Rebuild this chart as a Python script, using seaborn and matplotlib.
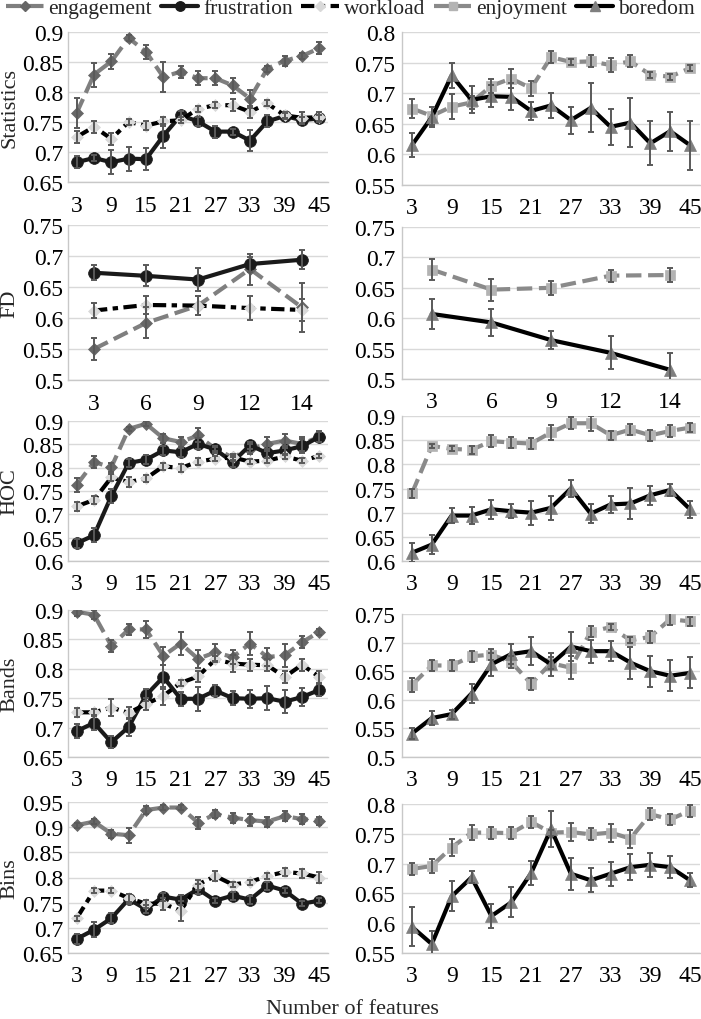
import numpy as np
import pandas as pd
import matplotlib
matplotlib.use("Agg")
import matplotlib.pyplot as plt
import seaborn as sns
from matplotlib.lines import Line2D
from matplotlib.ticker import FuncFormatter, MultipleLocator
from matplotlib import font_manager

# ---------------- data ----------------
features = [3, 6, 9, 12, 15, 18, 21, 24, 27, 30, 33, 36, 39, 42, 45]
fd_features = [3, 6, 9, 12, 14]

# Statistics
stats_engagement = [0.765, 0.829, 0.851, 0.890, 0.867, 0.825, 0.834, 0.823, 0.823, 0.811, 0.789, 0.839, 0.852, 0.860, 0.873]
stats_engagement_err = [0.025, 0.02, 0.012, 0.005, 0.012, 0.025, 0.01, 0.012, 0.012, 0.012, 0.015, 0.005, 0.008, 0.005, 0.01]
stats_frustration = [0.683, 0.690, 0.683, 0.689, 0.688, 0.727, 0.761, 0.751, 0.734, 0.734, 0.719, 0.751, 0.760, 0.753, 0.756]
stats_frustration_err = [0.01, 0.005, 0.02, 0.02, 0.018, 0.02, 0.008, 0.008, 0.01, 0.005, 0.018, 0.01, 0.005, 0.005, 0.005]
stats_workload = [0.725, 0.742, 0.722, 0.750, 0.744, 0.751, 0.753, 0.772, 0.778, 0.778, 0.767, 0.781, 0.761, 0.757, 0.758]
stats_workload_err = [0.01, 0.01, 0.01, 0.005, 0.008, 0.008, 0.005, 0.005, 0.005, 0.01, 0.01, 0.005, 0.005, 0.01, 0.008]
stats_enjoyment = [0.675, 0.663, 0.678, 0.685, 0.712, 0.724, 0.708, 0.759, 0.751, 0.752, 0.746, 0.752, 0.730, 0.727, 0.741]
stats_enjoyment_err = [0.015, 0.015, 0.02, 0.01, 0.012, 0.015, 0.012, 0.01, 0.005, 0.01, 0.012, 0.01, 0.005, 0.005, 0.005]
stats_boredom = [0.615, 0.661, 0.729, 0.689, 0.695, 0.694, 0.671, 0.680, 0.656, 0.676, 0.645, 0.652, 0.618, 0.638, 0.615]
stats_boredom_err = [0.02, 0.017, 0.02, 0.022, 0.018, 0.022, 0.015, 0.02, 0.022, 0.04, 0.03, 0.04, 0.036, 0.032, 0.04]

# FD
fd_engagement = [0.550, 0.592, 0.620, 0.679, 0.617]
fd_engagement_err = [0.017, 0.025, 0.015, 0.025, 0.04]
fd_frustration = [0.673, 0.668, 0.662, 0.687, 0.694]
fd_frustration_err = [0.012, 0.017, 0.018, 0.012, 0.015]
fd_workload = [0.612, 0.621, 0.620, 0.616, 0.613]
fd_workload_err = [0.012, 0.015, 0.015, 0.02, 0.018]
fd_enjoyment = [0.680, 0.647, 0.650, 0.670, 0.671]
fd_enjoyment_err = [0.017, 0.018, 0.012, 0.01, 0.012]
fd_boredom = [0.607, 0.593, 0.564, 0.543, 0.515]
fd_boredom_err = [0.025, 0.022, 0.015, 0.027, 0.028]

# HOC
hoc_engagement = [0.763, 0.812, 0.801, 0.883, 0.894, 0.863, 0.855, 0.869, 0.840, 0.822, 0.840, 0.851, 0.858, 0.851, 0.866]
hoc_engagement_err = [0.015, 0.012, 0.01, 0.005, 0.005, 0.01, 0.01, 0.015, 0.005, 0.005, 0.01, 0.015, 0.015, 0.015, 0.01]
hoc_frustration = [0.638, 0.655, 0.739, 0.810, 0.817, 0.837, 0.833, 0.851, 0.839, 0.812, 0.848, 0.831, 0.837, 0.846, 0.866]
hoc_frustration_err = [0.01, 0.015, 0.015, 0.008, 0.01, 0.01, 0.01, 0.012, 0.008, 0.01, 0.008, 0.01, 0.01, 0.015, 0.012]
hoc_workload = [0.717, 0.731, 0.779, 0.769, 0.777, 0.803, 0.799, 0.813, 0.819, 0.822, 0.813, 0.815, 0.824, 0.815, 0.825]
hoc_workload_err = [0.01, 0.008, 0.008, 0.01, 0.008, 0.008, 0.008, 0.008, 0.005, 0.008, 0.005, 0.005, 0.005, 0.005, 0.005]
hoc_enjoyment = [0.740, 0.838, 0.832, 0.830, 0.848, 0.845, 0.843, 0.866, 0.885, 0.885, 0.860, 0.872, 0.860, 0.869, 0.876]
hoc_enjoyment_err = [0.01, 0.005, 0.005, 0.008, 0.012, 0.012, 0.012, 0.015, 0.012, 0.015, 0.01, 0.012, 0.012, 0.012, 0.01]
hoc_boredom = [0.617, 0.634, 0.694, 0.694, 0.707, 0.703, 0.700, 0.710, 0.750, 0.698, 0.717, 0.719, 0.736, 0.747, 0.707]
hoc_boredom_err = [0.02, 0.02, 0.015, 0.017, 0.02, 0.015, 0.025, 0.025, 0.018, 0.02, 0.018, 0.032, 0.02, 0.013, 0.017]

# Bands
bands_engagement = [0.897, 0.892, 0.839, 0.867, 0.867, 0.822, 0.843, 0.817, 0.828, 0.820, 0.843, 0.820, 0.823, 0.845, 0.863]
bands_engagement_err = [0.008, 0.008, 0.01, 0.01, 0.015, 0.015, 0.02, 0.015, 0.015, 0.012, 0.02, 0.015, 0.02, 0.01, 0.005]
bands_frustration = [0.694, 0.708, 0.675, 0.701, 0.755, 0.786, 0.749, 0.749, 0.763, 0.750, 0.749, 0.750, 0.744, 0.752, 0.764]
bands_frustration_err = [0.012, 0.012, 0.01, 0.015, 0.01, 0.02, 0.012, 0.02, 0.01, 0.012, 0.015, 0.02, 0.02, 0.015, 0.01]
bands_workload = [0.726, 0.726, 0.734, 0.725, 0.740, 0.754, 0.776, 0.787, 0.816, 0.809, 0.807, 0.806, 0.786, 0.807, 0.786]
bands_workload_err = [0.008, 0.005, 0.015, 0.01, 0.01, 0.015, 0.005, 0.01, 0.005, 0.015, 0.01, 0.01, 0.01, 0.01, 0.01]
bands_enjoyment = [0.626, 0.660, 0.660, 0.676, 0.679, 0.666, 0.628, 0.664, 0.656, 0.719, 0.727, 0.704, 0.710, 0.741, 0.737]
bands_enjoyment_err = [0.012, 0.01, 0.01, 0.01, 0.01, 0.01, 0.01, 0.01, 0.02, 0.01, 0.005, 0.005, 0.01, 0.01, 0.008]
bands_boredom = [0.541, 0.568, 0.575, 0.611, 0.662, 0.680, 0.685, 0.662, 0.693, 0.685, 0.685, 0.665, 0.650, 0.642, 0.647]
bands_boredom_err = [0.01, 0.012, 0.008, 0.017, 0.02, 0.018, 0.025, 0.02, 0.025, 0.02, 0.017, 0.028, 0.027, 0.027, 0.027]

# Bins
bins_engagement = [0.904, 0.911, 0.887, 0.884, 0.934, 0.939, 0.939, 0.909, 0.926, 0.919, 0.914, 0.911, 0.922, 0.916, 0.913]
bins_engagement_err = [0.005, 0.005, 0.008, 0.015, 0.008, 0.005, 0.005, 0.012, 0.008, 0.01, 0.012, 0.01, 0.01, 0.01, 0.008]
bins_frustration = [0.678, 0.696, 0.719, 0.757, 0.737, 0.762, 0.756, 0.777, 0.754, 0.764, 0.756, 0.784, 0.774, 0.748, 0.754]
bins_frustration_err = [0.01, 0.015, 0.01, 0.01, 0.008, 0.008, 0.01, 0.01, 0.005, 0.008, 0.008, 0.008, 0.005, 0.005, 0.005]
bins_workload = [0.719, 0.774, 0.774, 0.759, 0.748, 0.748, 0.734, 0.786, 0.803, 0.786, 0.791, 0.803, 0.811, 0.808, 0.800]
bins_workload_err = [0.005, 0.005, 0.005, 0.008, 0.008, 0.012, 0.02, 0.01, 0.01, 0.005, 0.005, 0.005, 0.008, 0.008, 0.01]
bins_enjoyment = [0.691, 0.696, 0.727, 0.752, 0.752, 0.751, 0.770, 0.752, 0.753, 0.749, 0.752, 0.742, 0.783, 0.774, 0.789]
bins_enjoyment_err = [0.01, 0.012, 0.015, 0.012, 0.01, 0.01, 0.01, 0.005, 0.015, 0.01, 0.015, 0.015, 0.01, 0.01, 0.01]
bins_boredom = [0.594, 0.565, 0.645, 0.677, 0.612, 0.635, 0.684, 0.758, 0.683, 0.672, 0.683, 0.694, 0.698, 0.694, 0.672]
bins_boredom_err = [0.033, 0.022, 0.025, 0.01, 0.02, 0.025, 0.02, 0.03, 0.027, 0.02, 0.02, 0.022, 0.02, 0.018, 0.012]

row_names = ["Statistics", "FD", "HOC", "Bands", "Bins"]
left_ylims = [(0.65, 0.9), (0.5, 0.75), (0.6, 0.9), (0.65, 0.9), (0.65, 0.95)]
right_ylims = [(0.55, 0.8), (0.5, 0.75), (0.6, 0.9), (0.5, 0.75), (0.55, 0.8)]

# ---------------- assemble ----------------
rows = {
    "Statistics": (features, {
        "engagement": (stats_engagement, stats_engagement_err),
        "frustration": (stats_frustration, stats_frustration_err),
        "workload": (stats_workload, stats_workload_err)},
        {"enjoyment": (stats_enjoyment, stats_enjoyment_err),
         "boredom": (stats_boredom, stats_boredom_err)}),
    "FD": (fd_features, {
        "engagement": (fd_engagement, fd_engagement_err),
        "frustration": (fd_frustration, fd_frustration_err),
        "workload": (fd_workload, fd_workload_err)},
        {"enjoyment": (fd_enjoyment, fd_enjoyment_err),
         "boredom": (fd_boredom, fd_boredom_err)}),
    "HOC": (features, {
        "engagement": (hoc_engagement, hoc_engagement_err),
        "frustration": (hoc_frustration, hoc_frustration_err),
        "workload": (hoc_workload, hoc_workload_err)},
        {"enjoyment": (hoc_enjoyment, hoc_enjoyment_err),
         "boredom": (hoc_boredom, hoc_boredom_err)}),
    "Bands": (features, {
        "engagement": (bands_engagement, bands_engagement_err),
        "frustration": (bands_frustration, bands_frustration_err),
        "workload": (bands_workload, bands_workload_err)},
        {"enjoyment": (bands_enjoyment, bands_enjoyment_err),
         "boredom": (bands_boredom, bands_boredom_err)}),
    "Bins": (features, {
        "engagement": (bins_engagement, bins_engagement_err),
        "frustration": (bins_frustration, bins_frustration_err),
        "workload": (bins_workload, bins_workload_err)},
        {"enjoyment": (bins_enjoyment, bins_enjoyment_err),
         "boredom": (bins_boredom, bins_boredom_err)}),
}

STY = {
    "engagement": dict(color="#7f7f7f", linestyle="--", marker="D", mfc="#666666", ms=6.5),
    "frustration": dict(color="#1a1a1a", linestyle="-", marker="o", mfc="#1a1a1a", ms=8.5),
    "workload": dict(color="#000000", linestyle=(0, (3.2, 1.3, 1.3, 1.3)), marker="D", mfc="#d9d9d9", ms=6.5),
    "enjoyment": dict(color="#8a8a8a", linestyle="--", marker="s", mfc="#b3b3b3", ms=7.5),
    "boredom": dict(color="#000000", linestyle="-", marker="^", mfc="#7f7f7f", ms=8.5),
}
LW = 3.0

# ---------------- figure ----------------
sns.set_style("white")
avail = {f.name for f in font_manager.fontManager.ttflist}
serif_list = [f for f in ["Liberation Serif", "Times New Roman", "DejaVu Serif"] if f in avail]
plt.rcParams["font.serif"] = serif_list + ["DejaVu Serif"]
plt.rcParams["font.family"] = "serif"

W, H = 701, 1020
fig = plt.figure(figsize=(W / 100, H / 100), dpi=100)

left_x = (68, 328)
right_x = (402, 700)
left_y = [(33, 183), (226, 381), (422, 562), (611, 758), (803, 954)]
right_y = [(33, 186), (228, 380), (417, 562), (615, 758), (805, 954)]


def make_ax(xr, yr):
    return fig.add_axes([xr[0] / W, 1 - yr[1] / H, (xr[1] - xr[0]) / W, (yr[1] - yr[0]) / H])


fmt = FuncFormatter(lambda v, p: ("%.2f" % v).rstrip("0").rstrip("."))


def draw_panel(ax, xs, series, ylim, ypad):
    pos = np.arange(len(xs))
    for name, (vals, errs) in series.items():
        s = STY[name]
        df = pd.DataFrame({"pos": pos, "val": vals})
        sns.lineplot(data=df, x="pos", y="val", ax=ax, color=s["color"], linestyle=s["linestyle"],
                     linewidth=LW, marker=s["marker"], markersize=s["ms"],
                     markerfacecolor=s["mfc"], markeredgecolor=s["mfc"], markeredgewidth=0.5,
                     errorbar=None, zorder=3)
        ax.errorbar(pos, vals, yerr=errs, fmt="none", ecolor="#595959", elinewidth=1.4,
                    capsize=2.5, capthick=1.4, zorder=4)
    ax.set_xlim(-0.5, len(xs) - 0.5)
    ax.set_ylim(*ylim)
    ax.yaxis.set_major_locator(MultipleLocator(0.05))
    ax.yaxis.set_major_formatter(fmt)
    if len(xs) > 5:
        ticks = pos[::2]
        labels = [str(xs[i]) for i in ticks]
    else:
        ticks = pos
        labels = [str(v) for v in xs]
    ax.set_xticks(ticks)
    ax.set_xticklabels(labels)
    ax.set_xlabel("")
    ax.set_ylabel("")
    ax.grid(axis="y", color="#d9d9d9", linewidth=1.0)
    ax.grid(axis="x", visible=False)
    ax.set_axisbelow(True)
    for sp in ["top", "right"]:
        ax.spines[sp].set_visible(False)
    for sp in ["left", "bottom"]:
        ax.spines[sp].set_color("#c8c8c8")
        ax.spines[sp].set_linewidth(1.0)
    ax.tick_params(axis="both", length=0, labelsize=17, colors="#000000")
    ax.tick_params(axis="x", pad=9)
    ax.tick_params(axis="y", pad=ypad)


for r, name in enumerate(row_names):
    xs, lseries, rseries = rows[name]
    axl = make_ax(left_x, left_y[r])
    draw_panel(axl, xs, lseries, left_ylims[r], 3.5)
    axr = make_ax(right_x, right_y[r])
    draw_panel(axr, xs, rseries, right_ylims[r], 5)
    yc = (left_y[r][0] + left_y[r][1]) / 2
    fig.text(10 / W, 1 - yc / H, name, rotation=90, ha="center", va="center", fontsize=16)

fig.text(352 / W, 1 - 1010 / H, "Number of features", ha="center", va="center", fontsize=16)

handles = []
for name in ["engagement", "frustration", "workload", "enjoyment", "boredom"]:
    s = STY[name]
    handles.append(Line2D([0], [0], color=s["color"], linestyle=s["linestyle"], linewidth=LW,
                          marker=s["marker"], markersize=s["ms"] * 0.8, markerfacecolor=s["mfc"],
                          markeredgecolor=s["mfc"], label=name))
fig.legend(handles=handles, loc="upper center", bbox_to_anchor=(0.5, 1.003), ncol=5, frameon=False,
           fontsize=15.5, handlelength=1.75, handletextpad=0.22, columnspacing=0.4,
           borderaxespad=0, borderpad=0.1)

fig.savefig("out.png", dpi=100)
